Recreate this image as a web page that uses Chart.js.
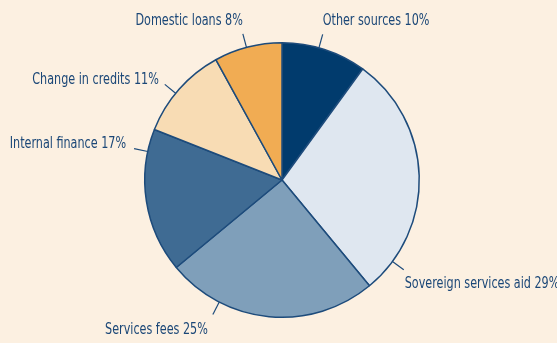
<!DOCTYPE html>
<html>
<head>
<meta charset="utf-8">
<script src="https://cdn.jsdelivr.net/npm/chart.js@4/dist/chart.umd.min.js"></script>
<style>
  html, body { margin: 0; padding: 0; background: #fcf0e1; }
  #wrap { width: 557px; height: 343px; position: relative; }
</style>
</head>
<body>
<div id="wrap"><canvas id="sourcesChart" width="557" height="343"></canvas></div>
<script>
// Funding sources, clockwise from 12 o'clock
const categories = ['Other sources', 'Sovereign services aid', 'Services fees', 'Internal finance', 'Change in credits', 'Domestic loans'];
const shares = [10, 29, 25, 17, 11, 8];
const sliceColors = ['#013b6d', '#dfe7f0', '#7f9fba', '#3f6b93', '#f8dcb4', '#f1ac53'];

// Where each callout leaves the rim (degrees clockwise from top) and how its text sits
const callouts = [
    { angle: 15.6, align: 'left',  dx: 0,  dy: -13 },
    { angle: 126.4, align: 'left', dx: 1,  dy: 14 },
    { angle: 207.2, align: 'right', dx: -5, dy: 16 },
    { angle: 282,  align: 'right', dx: -8, dy: -4 },
    { angle: 309.2, align: 'right', dx: -6, dy: -4 },
    { angle: 345,  align: 'right', dx: 0,  dy: -13 }
];

// condensed look: squeeze the label glyphs horizontally
const textSqueeze = 0.83;

const calloutPlugin = {
    id: 'callouts',
    afterDatasetsDraw(chart) {
        const arc = chart.getDatasetMeta(0).data[0];
        if (!arc) return;
        const ctx = chart.ctx;
        const cx = arc.x, cy = arc.y, r = arc.outerRadius;
        ctx.save();
        ctx.strokeStyle = '#1d4b7b';
        ctx.lineWidth = 1.2;
        ctx.fillStyle = '#1b4777';
        ctx.font = '15px "Liberation Sans Narrow", "DejaVu Sans Condensed", sans-serif';
        ctx.textBaseline = 'middle';
        callouts.forEach((c, i) => {
            const a = c.angle * Math.PI / 180;
            const x0 = cx + r * Math.sin(a), y0 = cy - r * Math.cos(a);
            const x1 = cx + (r + 14) * Math.sin(a), y1 = cy - (r + 14) * Math.cos(a);
            ctx.beginPath();
            ctx.moveTo(x0, y0);
            ctx.lineTo(x1, y1);
            ctx.stroke();

            const text = categories[i] + ' ' + shares[i] + '%';
            const tx = x1 + c.dx, ty = y1 + c.dy;
            ctx.save();
            ctx.translate(tx, ty);
            ctx.scale(textSqueeze, 1);
            ctx.textAlign = c.align;
            ctx.fillText(text, 0, 0);
            ctx.restore();
        });
        ctx.restore();
    }
};

document.addEventListener('DOMContentLoaded', function() {
    const ctx = document.getElementById('sourcesChart').getContext('2d');
    new Chart(ctx, {
        type: 'pie',
        data: {
            labels: categories,
            datasets: [{
                data: shares,
                backgroundColor: sliceColors,
                borderColor: '#1d4b7b',
                borderWidth: 1.5
            }]
        },
        options: {
            responsive: false,
            animation: false,
            layout: { padding: { left: 144, right: 137, top: 42, bottom: 25 } },
            plugins: {
                legend: { display: false },
                tooltip: { enabled: false }
            }
        },
        plugins: [calloutPlugin]
    });
});
</script>
</body>
</html>
